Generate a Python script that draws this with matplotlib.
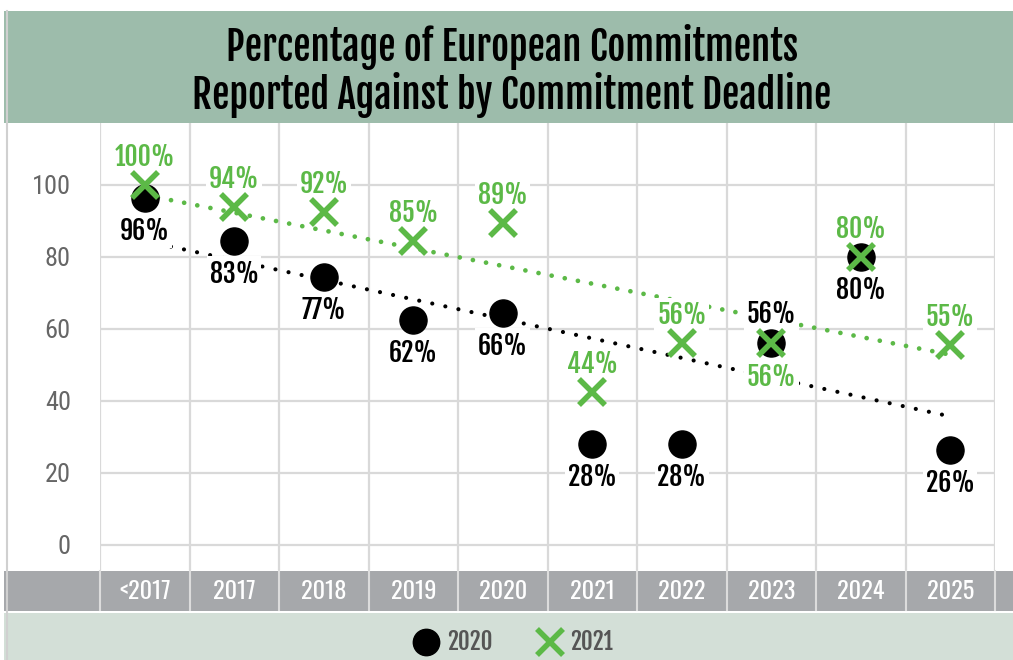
import matplotlib
matplotlib.use("Agg")
import matplotlib.pyplot as plt
import numpy as np
from matplotlib.patches import Rectangle
from matplotlib.lines import Line2D

plt.rcParams['font.family'] = ['Oswald', 'Barlow Condensed', 'DejaVu Sans']
BOLD = ['Fjalla One', 'Barlow Condensed', 'DejaVu Sans']
LIGHT = ['Roboto Condensed', 'Oswald', 'DejaVu Sans']

categories = ["<2017", "2017", "2018", "2019", "2020", "2021", "2022", "2023", "2024", "2025"]
values_2020 = [96.5, 84.5, 74.5, 62.5, 64.5, 28, 28, 56, 80, 26.5]
labels_2020 = ["96%", "83%", "77%", "62%", "66%", "28%", "28%", "56%", "80%", "26%"]
values_2021 = [100, 94, 92.5, 84.5, 89.5, 42.5, 56, 56, 80, 55.5]
labels_2021 = ["100%", "94%", "92%", "85%", "89%", "44%", "56%", "56%", "80%", "55%"]
# label placement: True = above marker, False = below
above_2020 = [False, False, False, False, False, False, False, True, False, False]
above_2021 = [True, True, True, True, True, True, True, False, True, True]
yticks = [0, 20, 40, 60, 80, 100]

BLACK = "#000000"
GREEN = "#5cb947"
GRID = "#d9d9d9"

W, H = 1013, 660
fig = plt.figure(figsize=(W / 100, H / 100), dpi=100)
fig.patch.set_facecolor("white")

def fx(px):
    return px / W

def fy(py):
    return 1 - py / H

# title band
fig.patches.append(Rectangle((fx(4), fy(123)), 1 - fx(4), fy(11) - fy(123),
                             transform=fig.transFigure, facecolor="#9dbcab",
                             edgecolor="none", zorder=0))
# x-axis band
fig.patches.append(Rectangle((fx(4), fy(611)), 1 - fx(4), fy(571) - fy(611),
                             transform=fig.transFigure, facecolor="#a6a8ab",
                             edgecolor="none", zorder=0))
# legend band
fig.patches.append(Rectangle((fx(4), 0), 1 - fx(4), fy(613),
                             transform=fig.transFigure, facecolor="#d3dfd7",
                             edgecolor="none", zorder=0))
# left frame line
fig.lines.append(Line2D([fx(7), fx(7)], [0, fy(11)], transform=fig.transFigure,
                        color="#d0d0d0", lw=1.5))

fig.text(fx(512), fy(71), "Percentage of European Commitments\nReported Against by Commitment Deadline",
         ha="center", va="center", fontsize=28, color="black", family=BOLD,
         linespacing=1.08)

ax = fig.add_axes([fx(100), fy(570), fx(995) - fx(100), fy(123) - fy(570)])
ax.set_zorder(3)
ax.set_facecolor("none")
ymin = -(570 - 545) / 3.6
ymax = (545 - 123) / 3.6
ax.set_ylim(ymin, ymax)
ax.set_xlim(-0.5, len(categories) - 0.5)

x = np.arange(len(categories))

# gridlines
for yv in yticks:
    ax.axhline(yv, color=GRID, lw=1.6, zorder=1)
for xb in np.arange(-0.5, len(categories), 1.0):
    ax.axvline(xb, color=GRID, lw=1.6, zorder=1)
for s in ax.spines.values():
    s.set_visible(False)

ax.set_yticks(yticks)
ax.set_yticklabels([str(v) for v in yticks], fontsize=19, color="#666666",
                   family=LIGHT, fontweight=400)
ax.tick_params(axis="y", length=0, pad=21)
ax.set_xticks(x)
ax.set_xticklabels(categories, fontsize=17.5, color="white")
ax.tick_params(axis="x", length=0, pad=7)

# separators in x band
for xb in np.arange(-0.5, len(categories), 1.0):
    ax.plot([xb, xb], [ymin - 11.2, ymin - 0.3], color="#dcdcdc", lw=1.5,
            clip_on=False, zorder=1)

# trendlines
for vals, col, lw in ((values_2020, BLACK, 3.0), (values_2021, GREEN, 3.4)):
    k, b = np.polyfit(x, vals, 1)
    ax.plot([x[0], x[-1]], [b, b + k * x[-1]], color=col, lw=lw,
            linestyle=(0, (0.01, 9.6 / lw)), dash_capstyle="round", zorder=2)

# markers
ax.plot(x, values_2020, linestyle="none", marker="o", ms=19.5, color=BLACK, zorder=5)
ax.plot(x, values_2021, linestyle="none", marker="x", ms=19, mew=4, color=GREEN, zorder=6)

# data labels
for xi, v, lab, up in zip(x, values_2020, labels_2020, above_2020):
    ax.annotate(lab, (xi, v), xytext=(0, 29 if up else -33), textcoords="offset pixels",
                ha="center", va="center", fontsize=18.5, family=BOLD, color=BLACK,
                bbox=dict(boxstyle="square,pad=0.1", fc="white", ec="none"), zorder=4)
for xi, v, lab, up in zip(x, values_2021, labels_2021, above_2021):
    ax.annotate(lab, (xi, v), xytext=(0, 28 if up else -34), textcoords="offset pixels",
                ha="center", va="center", fontsize=18.5, family=BOLD, color=GREEN,
                bbox=dict(boxstyle="square,pad=0.1", fc="white", ec="none"), zorder=4)

handles = [Line2D([], [], linestyle="none", marker="o", ms=19, color=BLACK),
           Line2D([], [], linestyle="none", marker="x", ms=19, mew=4, color=GREEN)]
leg = fig.legend(handles, ["2020", "2021"], loc="center", bbox_to_anchor=(fx(514), fy(642)),
                 ncol=2, frameon=False, prop=dict(family=BOLD, size=16.5),
                 handlelength=1.0, handletextpad=0.4, columnspacing=2.0)
for t in leg.get_texts():
    t.set_color("#555555")

fig.savefig("out.png", dpi=100)
